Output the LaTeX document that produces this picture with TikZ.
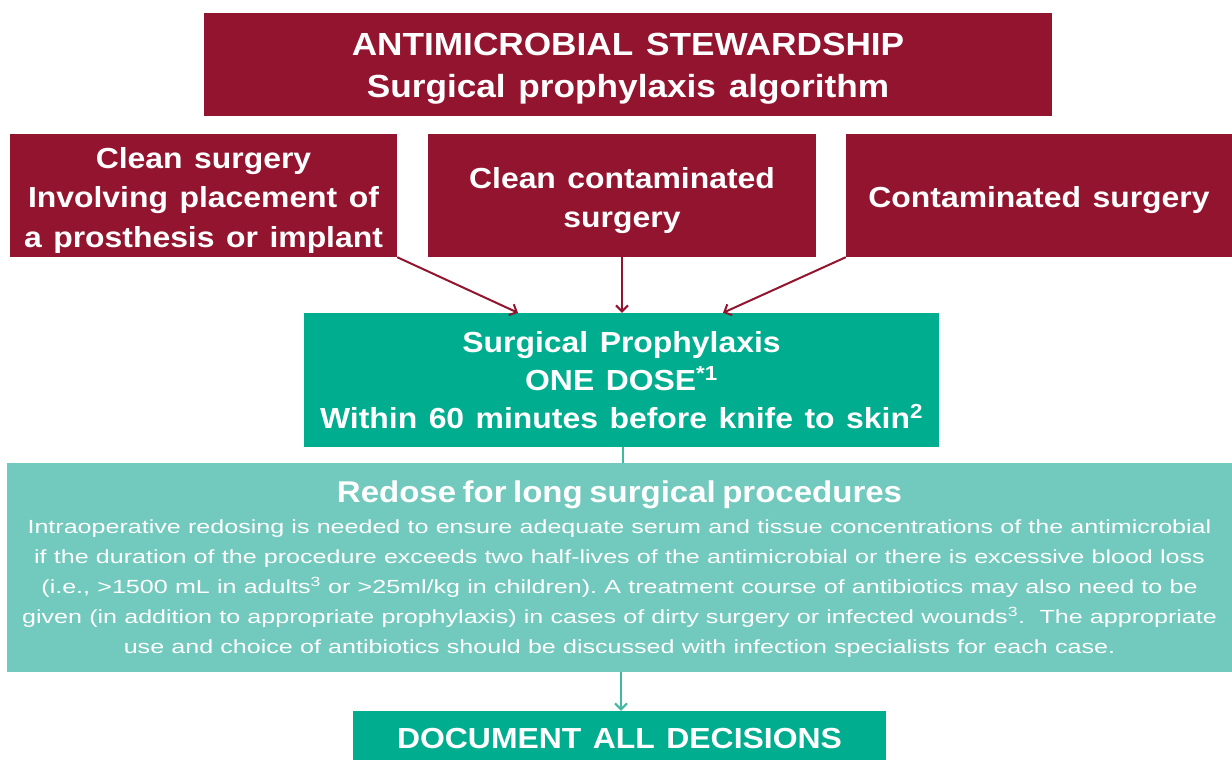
\documentclass[tikz,border=0pt]{standalone}
\usepackage{fontspec}
\setmainfont{Liberation Sans}[FakeStretch=1.1,WordSpace=1.3]
\newfontfamily\bodyfont{Liberation Sans}[FakeStretch=1.32]
\usetikzlibrary{arrows.meta}
\definecolor{maroon}{HTML}{93142E}
\definecolor{dgreen}{HTML}{00AD8E}
\definecolor{lteal}{HTML}{72C9BD}
\definecolor{tline}{HTML}{40B9A3}
\newcommand\fsz[2]{\fontsize{#1}{#2}\selectfont}
% box text: height, width, distance from top to first baseline, content
\newcommand\tb[4]{\parbox[c][#1][t]{#2}{\centering\vspace*{\dimexpr#3-25pt\relax}\rule{0pt}{25pt}#4\par}}
\begin{document}
\begin{tikzpicture}[x=1pt,y=-1pt,
  mbox/.style={fill=maroon,text=white,inner sep=0pt,font=\fsz{29}{39.5}\bfseries},
  gbox/.style={fill=dgreen,text=white,inner sep=0pt,font=\fsz{29}{38}\bfseries},
  tbox/.style={fill=lteal,text=white,inner sep=0pt},
  marr/.style={draw=maroon,line width=2pt,-{Straight Barb[length=6pt,width=12pt]}},
  tarr/.style={draw=tline,line width=2pt,-{Straight Barb[length=6pt,width=12pt]}},
  tline/.style={draw=tline,line width=2pt}]
\useasboundingbox (0,0) rectangle (1232,760);
\clip (0,0) rectangle (1232,760);
\fill[white] (0,0) rectangle (1232,760);

\node[mbox,minimum width=848pt,minimum height=103pt,font=\fsz{32}{42}\bfseries] (title) at (628,64.5)
  {\tb{103pt}{848pt}{42pt}{ANTIMICROBIAL STEWARDSHIP\\Surgical prophylaxis algorithm}};

\node[mbox,minimum width=387pt,minimum height=123pt] (clean) at (203.5,195.5)
  {\tb{123pt}{387pt}{34pt}{Clean surgery\\Involving placement of\\a prosthesis or implant}};
\node[mbox,minimum width=388pt,minimum height=123pt] (cc) at (622,195.5)
  {\tb{123pt}{388pt}{54pt}{Clean contaminated\\surgery}};
\node[mbox,minimum width=386pt,minimum height=123pt] (cont) at (1039,195.5)
  {\tb{123pt}{386pt}{73pt}{Contaminated surgery}};

\node[gbox,minimum width=635pt,minimum height=134pt] (proph) at (621.5,380)
  {\tb{134pt}{635pt}{39pt}{Surgical Prophylaxis\\ONE DOSE\textsuperscript{*1}\\Within 60 minutes before knife to skin\textsuperscript{2}}};

\node[tbox,minimum width=1225pt,minimum height=209pt] (redose) at (619.5,567.5)
  {\tb{209pt}{1225pt}{39pt}{{\fsz{30}{32}\bfseries\spaceskip=6.5pt Redose for long surgical procedures\par}%
   \vspace{1pt}%
   \bodyfont\fsz{19}{30}\spaceskip=7.2pt\xspaceskip=7.2pt
   Intraoperative redosing is needed to ensure adequate serum and tissue concentrations of the antimicrobial\\
   if the duration of the procedure exceeds two half-lives of the antimicrobial or there is excessive blood loss\\
   (i.e., >1500 mL in adults\textsuperscript{3} or >25ml/kg in children). A treatment course of antibiotics may also need to be\\
   given (in addition to appropriate prophylaxis) in cases of dirty surgery or infected wounds\textsuperscript{3}.\ \ The appropriate\\
   use and choice of antibiotics should be discussed with infection specialists for each case.}};

\node[gbox,minimum width=533pt,minimum height=54pt] (doc) at (619.5,738)
  {\tb{54pt}{533pt}{37pt}{DOCUMENT ALL DECISIONS}};

\draw[marr] (clean.south east) -- ([xshift=-103.5pt]proph.north);
\draw[marr] (cc.south) -- (cc.south |- proph.north);
\draw[marr] (cont.south west) -- ([xshift=101.5pt]proph.north);
\draw[tline] ([xshift=1.5pt]proph.south) -- ([xshift=1.5pt]proph.south |- redose.north);
\draw[tarr] ([xshift=1.5pt]redose.south) -- ([xshift=1.5pt]redose.south |- doc.north);
\end{tikzpicture}
\end{document}
